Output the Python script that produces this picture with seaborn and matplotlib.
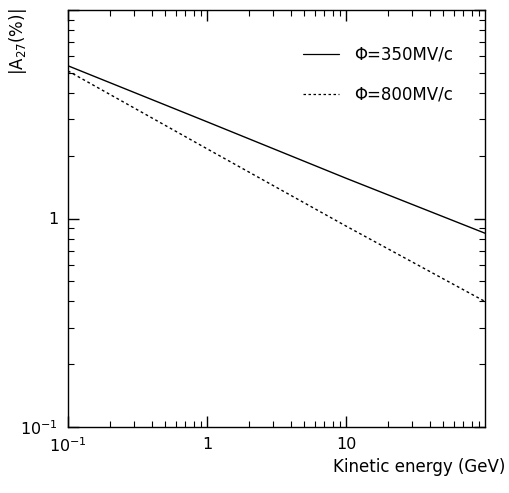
import pandas as pd
import seaborn as sns
import matplotlib.pyplot as plt
from matplotlib.ticker import LogLocator, FixedLocator, FixedFormatter, NullFormatter

# Kinetic energy (GeV) and |A27| (%)
energy = [0.1, 1.0, 10.0, 100.0]
a27_350 = [5.4, 2.91, 1.56, 0.85]
a27_800 = [5.1, 2.16, 0.92, 0.40]
labels = ["Φ=350MV/c", "Φ=800MV/c"]

df = pd.concat(
    [
        pd.DataFrame({"E": energy, "A": a27_350, "phi": labels[0]}),
        pd.DataFrame({"E": energy, "A": a27_800, "phi": labels[1]}),
    ]
)

sns.set_style("ticks")
plt.rcParams["font.family"] = ["DejaVu Sans"]
plt.rcParams["text.color"] = "black"
plt.rcParams["xtick.color"] = "black"
plt.rcParams["ytick.color"] = "black"

fig = plt.figure(figsize=(5.1, 4.93), dpi=100)
ax = fig.add_axes([68 / 510, 1 - 427 / 493, 417 / 510, 417 / 493])

sns.lineplot(
    data=df,
    x="E",
    y="A",
    style="phi",
    dashes={labels[0]: "", labels[1]: (2, 2)},
    color="black",
    linewidth=1.0,
    ax=ax,
)

ax.set_xscale("log")
ax.set_yscale("log")
ax.set_xlim(0.1, 100)
ax.set_ylim(0.1, 10)

ax.xaxis.set_major_locator(FixedLocator([0.1, 1, 10]))
ax.xaxis.set_major_formatter(FixedFormatter(["10$^{-1}$", "1", "10"]))
ax.yaxis.set_major_locator(FixedLocator([0.1, 1, 10]))
ax.yaxis.set_major_formatter(FixedFormatter(["10$^{-1}$", "1", ""]))
for axis in (ax.xaxis, ax.yaxis):
    axis.set_minor_locator(LogLocator(base=10, subs=range(2, 10)))
    axis.set_minor_formatter(NullFormatter())

ax.tick_params(which="both", direction="in", top=True, right=True, labelsize=11.5,
               pad=7, labelcolor="black")
ax.tick_params(which="major", length=8, width=1)
ax.tick_params(which="minor", length=4, width=0.8)
for s in ax.spines.values():
    s.set_linewidth(1.0)
    s.set_color("black")

ax.set_xlabel("")
ax.set_ylabel("")
fig.text(505 / 510, 1 - 467 / 493, "Kinetic energy (GeV)", ha="right", va="center", fontsize=12)
fig.text(18 / 510, 1 - 8 / 493, "|A$_{27}$(%)|", ha="center", va="top", rotation=90, fontsize=12)

leg = ax.legend(
    loc="upper right",
    bbox_to_anchor=(0.96, 0.95),
    frameon=False,
    handlelength=2.2,
    handletextpad=0.9,
    labelspacing=1.3,
    fontsize=12,
)
for h in leg.get_lines():
    h.set_linewidth(0.9)

fig.savefig("out.png", dpi=100)
plt.close(fig)
